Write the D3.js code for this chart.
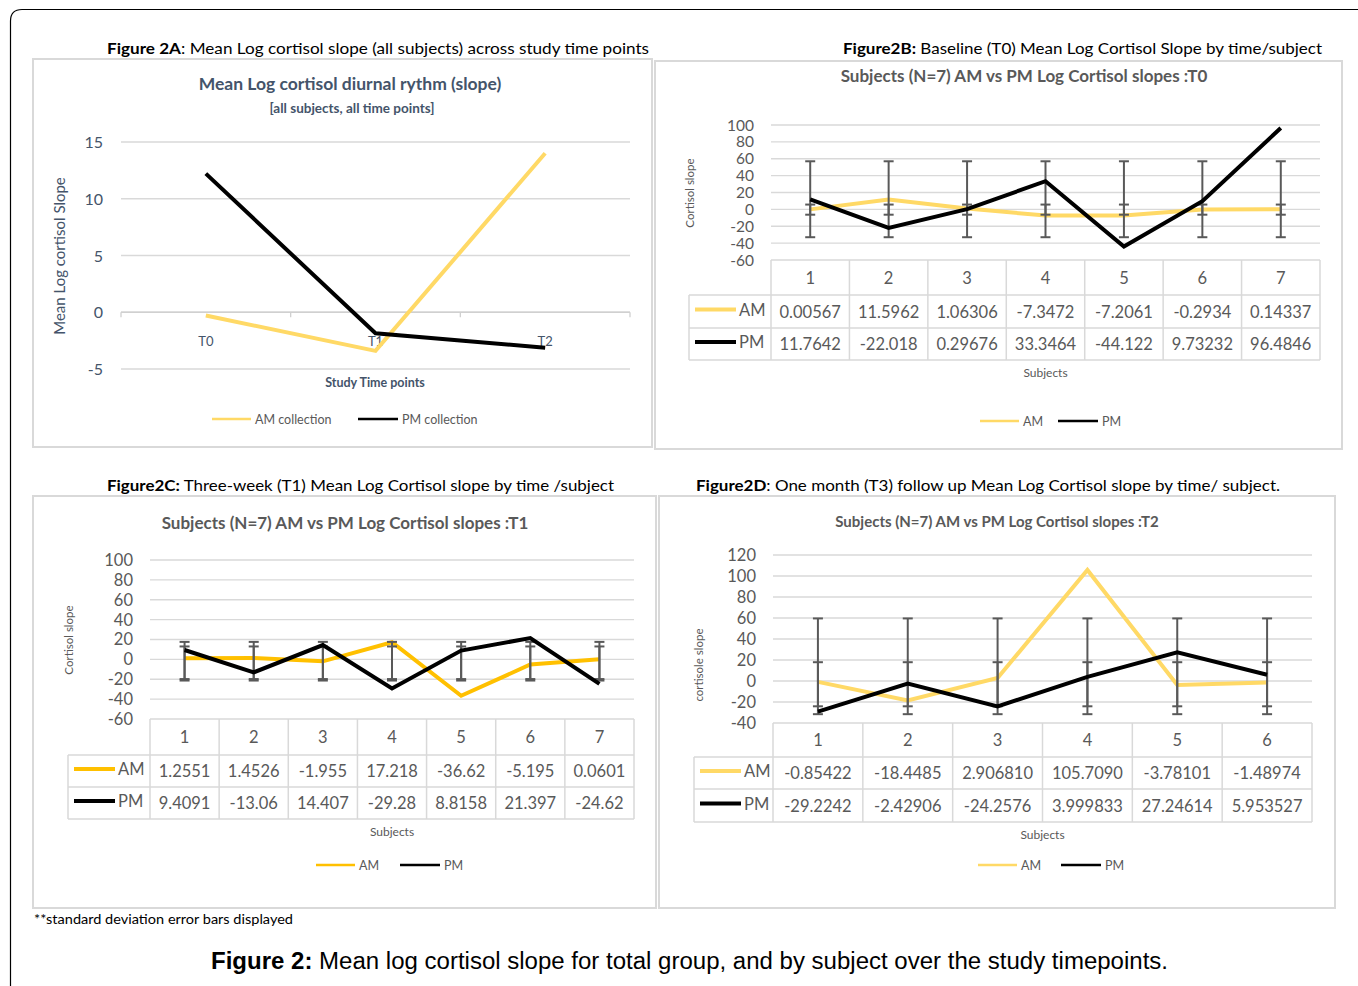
<!DOCTYPE html>
<html>
<head>
<meta charset="utf-8">
<script src="https://cdn.jsdelivr.net/npm/d3@7"></script>
<style>
body{margin:0;background:#fff;}
svg{display:block;font-family:Lato,"Open Sans",sans-serif;}
</style>
</head>
<body>
<svg id="c" width="1358" height="986"></svg>
<script>
// ---------------- DATA ----------------
const timePoints = ["T0", "T1", "T2"];
const meanAM = [-0.29, -3.40, 14.01];
const meanPM = [12.21, -1.85, -3.12];

const subjects7 = ["1", "2", "3", "4", "5", "6", "7"];
const subjects6 = ["1", "2", "3", "4", "5", "6"];

const t0AMLabels = ["0.00567", "11.5962", "1.06306", "-7.3472", "-7.2061", "-0.2934", "0.14337"];
const t0PMLabels = ["11.7642", "-22.018", "0.29676", "33.3464", "-44.122", "9.73232", "96.4846"];
const t0AM = [0.00567, 11.5962, 1.06306, -7.3472, -7.2061, -0.2934, 0.14337];
const t0PM = [11.7642, -22.018, 0.29676, 33.3464, -44.122, 9.73232, 96.4846];
const t0ErrAM = [-6.3, 5.7];
const t0ErrPM = [-33, 57];

const t1AMLabels = ["1.2551", "1.4526", "-1.955", "17.218", "-36.62", "-5.195", "0.0601"];
const t1PMLabels = ["9.4091", "-13.06", "14.407", "-29.28", "8.8158", "21.397", "-24.62"];
const t1AM = [1.2551, 1.4526, -1.955, 17.218, -36.62, -5.195, 0.0601];
const t1PM = [9.4091, -13.06, 14.407, -29.28, 8.8158, 21.397, -24.62];
const t1ErrAM = [-19.8, 13.0];
const t1ErrPM = [-21.3, 17.6];

const t2AMLabels = ["-0.85422", "-18.4485", "2.906810", "105.7090", "-3.78101", "-1.48974"];
const t2PMLabels = ["-29.2242", "-2.42906", "-24.2576", "3.999833", "27.24614", "5.953527"];
const t2AM = [-0.85422, -18.4485, 2.906810, 105.7090, -3.78101, -1.48974];
const t2PM = [-29.2242, -2.42906, -24.2576, 3.999833, 27.24614, 5.953527];
const t2ErrAM = [-31.6, 59.6];
const t2ErrPM = [-24.1, 17.9];

const ticksA = [-5, 0, 5, 10, 15];
const ticksT0 = [-60, -40, -20, 0, 20, 40, 60, 80, 100];
const ticksT1 = [-60, -40, -20, 0, 20, 40, 60, 80, 100];
const ticksT2 = [-40, -20, 0, 20, 40, 60, 80, 100, 120];

// ---------------- DRAWING ----------------
const svg = d3.select("#c");
const GRID = "#d9d9d9", TXT = "#595959", BLUE = "#44546a";
const GOLD_L = "#ffd966", GOLD = "#ffc000";

// outer frame
svg.append("path")
  .attr("d", "M10.5,986 L10.5,21 Q10.5,9.5 22,9.5 L1358,9.5")
  .attr("fill", "none").attr("stroke", "#000").attr("stroke-width", 1.2);

function heading(x, y, bold, rest, len) {
  const t = svg.append("text").attr("x", x).attr("y", y).attr("font-size", 16).attr("fill", "#000")
    .attr("textLength", len).attr("lengthAdjust", "spacingAndGlyphs");
  t.append("tspan").attr("font-weight", 700).text(bold);
  t.append("tspan").text(rest);
}
heading(107, 54, "Figure 2A", ": Mean Log cortisol slope (all subjects) across study time points", 542);
heading(843, 54, "Figure2B:", " Baseline (T0) Mean Log Cortisol Slope by time/subject", 479);
heading(107, 491, "Figure2C:", " Three-week (T1) Mean Log Cortisol slope by time /subject", 507);
heading(696, 491, "Figure2D", ": One month (T3) follow up Mean Log Cortisol slope by time/ subject.", 584);

function box(x0, y0, x1, y1) {
  svg.append("rect").attr("x", x0).attr("y", y0).attr("width", x1 - x0).attr("height", y1 - y0)
    .attr("fill", "#fff").attr("stroke", GRID).attr("stroke-width", 2);
}

// ---------- Chart A ----------
box(33, 59, 652, 447);
(function () {
  const g = svg.append("g");
  const x = d3.scaleBand().domain(timePoints).range([121, 630]);
  const y = d3.scaleLinear().domain([-5, 15]).range([369, 142]);
  g.append("text").attr("x", 350).attr("y", 90).attr("text-anchor", "middle").attr("font-size", 17.5)
    .attr("font-weight", 700).attr("fill", BLUE).text("Mean Log cortisol diurnal rythm (slope)");
  g.append("text").attr("x", 352).attr("y", 113).attr("text-anchor", "middle").attr("font-size", 13.5)
    .attr("font-weight", 700).attr("fill", BLUE).text("[all subjects, all time points]");
  ticksA.forEach(v => {
    g.append("line").attr("x1", 121).attr("x2", 630).attr("y1", y(v)).attr("y2", y(v))
      .attr("stroke", GRID).attr("stroke-width", 1.3);
    g.append("text").attr("x", 103).attr("y", y(v) + 6).attr("text-anchor", "end")
      .attr("font-size", 16).attr("fill", BLUE).text(v);
  });
  // axis at 0 with tick marks
  g.append("line").attr("x1", 121).attr("x2", 630).attr("y1", y(0)).attr("y2", y(0)).attr("stroke", "#d0d0d0").attr("stroke-width", 1.5);
  const bounds = [121].concat(timePoints.map(d => x(d) + x.bandwidth()));
  bounds.forEach(b => g.append("line").attr("x1", b).attr("x2", b).attr("y1", y(0)).attr("y2", y(0) + 5).attr("stroke", "#d0d0d0").attr("stroke-width", 1.3));
  timePoints.forEach(t => g.append("text").attr("x", x(t) + x.bandwidth() / 2).attr("y", 346)
    .attr("text-anchor", "middle").attr("font-size", 13).attr("fill", BLUE).text(t));
  g.append("text").attr("transform", "translate(65,256) rotate(-90)").attr("text-anchor", "middle")
    .attr("font-size", 15).attr("fill", BLUE).text("Mean Log cortisol Slope");
  g.append("text").attr("x", 375).attr("y", 387).attr("text-anchor", "middle").attr("font-size", 12.5)
    .attr("font-weight", 700).attr("fill", BLUE).text("Study Time points");
  const line = d3.line().x((d, i) => x(timePoints[i]) + x.bandwidth() / 2).y(d => y(d));
  g.append("path").attr("d", line(meanAM)).attr("fill", "none").attr("stroke", GOLD_L).attr("stroke-width", 4);
  g.append("path").attr("d", line(meanPM)).attr("fill", "none").attr("stroke", "#000").attr("stroke-width", 4);
  // legend
  g.append("line").attr("x1", 212).attr("x2", 251).attr("y1", 419).attr("y2", 419).attr("stroke", GOLD_L).attr("stroke-width", 2.5);
  g.append("text").attr("x", 255).attr("y", 424).attr("font-size", 12.5).attr("fill", TXT).text("AM collection");
  g.append("line").attr("x1", 358).attr("x2", 398).attr("y1", 419).attr("y2", 419).attr("stroke", "#000").attr("stroke-width", 2.5);
  g.append("text").attr("x", 402).attr("y", 424).attr("font-size", 12.5).attr("fill", TXT).text("PM collection");
})();

// ---------- subject charts ----------
function subjectChart(o) {
  box(o.box[0], o.box[1], o.box[2], o.box[3]);
  const g = svg.append("g");
  const x = d3.scaleBand().domain(o.cats).range([o.colL, o.colR]);
  const y = d3.scaleLinear().domain([o.ticks[0], o.ticks[o.ticks.length - 1]]).range(o.yRange);
  const cx = c => x(c) + x.bandwidth() / 2;
  g.append("text").attr("x", o.titleX).attr("y", o.titleY).attr("text-anchor", "middle")
    .attr("font-size", o.titleSize).attr("font-weight", 700).attr("fill", TXT).text(o.title);
  o.ticks.forEach(v => {
    if (v !== o.ticks[0]) g.append("line").attr("x1", o.colL).attr("x2", o.colR).attr("y1", y(v)).attr("y2", y(v))
      .attr("stroke", GRID).attr("stroke-width", 1.3);
    g.append("text").attr("x", o.colL - 17).attr("y", y(v) + o.tickSize * 0.36).attr("text-anchor", "end")
      .attr("font-size", o.tickSize).attr("fill", TXT).text(v);
  });
  g.append("text").attr("transform", `translate(${o.yTitleX},${o.yTitleY}) rotate(-90)`).attr("text-anchor", "middle")
    .attr("font-size", 11.5).attr("fill", TXT).text(o.yTitle);
  // table
  const t0 = y(o.ticks[0]), r1 = o.rows[0], r2 = o.rows[1], r3 = o.rows[2];
  const tb = g.append("g").attr("stroke", GRID).attr("stroke-width", 1.5);
  tb.append("line").attr("x1", o.colL).attr("x2", o.colR).attr("y1", t0).attr("y2", t0);
  [r1, r2, r3].forEach(r => tb.append("line").attr("x1", o.tabL).attr("x2", o.colR).attr("y1", r).attr("y2", r));
  const vb = o.cats.map(c => x(c)).concat([o.colR]);
  vb.forEach(b => tb.append("line").attr("x1", b).attr("x2", b).attr("y1", t0).attr("y2", r3));
  tb.append("line").attr("x1", o.tabL).attr("x2", o.tabL).attr("y1", r1).attr("y2", r3);
  o.cats.forEach((c, i) => {
    g.append("text").attr("x", cx(c)).attr("y", (t0 + r1) / 2 + 6).attr("text-anchor", "middle")
      .attr("font-size", 16.5).attr("fill", TXT).text(c);
    g.append("text").attr("x", cx(c)).attr("y", (r1 + r2) / 2 + 6).attr("text-anchor", "middle")
      .attr("font-size", 16.5).attr("fill", TXT).text(o.amLabels[i]);
    g.append("text").attr("x", cx(c)).attr("y", (r2 + r3) / 2 + 6).attr("text-anchor", "middle")
      .attr("font-size", 16.5).attr("fill", TXT).text(o.pmLabels[i]);
  });
  [[r1, r2, o.amColor, "AM"], [r2, r3, "#000", "PM"]].forEach(([a, b, col, name]) => {
    const my = (a + b) / 2 - 2;
    g.append("line").attr("x1", o.tabL + 6).attr("x2", o.tabL + 47).attr("y1", my).attr("y2", my)
      .attr("stroke", col).attr("stroke-width", 4);
    g.append("text").attr("x", o.tabL + 50).attr("y", my + 6).attr("font-size", 16.5).attr("fill", TXT).text(name);
  });
  g.append("text").attr("x", (o.colL + o.colR) / 2).attr("y", r3 + 17).attr("text-anchor", "middle")
    .attr("font-size", 12).attr("fill", TXT).text("Subjects");
  // lines and error bars
  const line = d3.line().x((d, i) => cx(o.cats[i])).y(d => y(d));
  g.append("path").attr("d", line(o.am)).attr("fill", "none").attr("stroke", o.amColor).attr("stroke-width", 4);
  const eb = g.append("g").attr("stroke", "#595959").attr("stroke-width", 2);
  [o.errAM, o.errPM].forEach(e => {
    o.cats.forEach(c => {
      const X = cx(c);
      eb.append("line").attr("x1", X).attr("x2", X).attr("y1", y(e[0])).attr("y2", y(e[1]));
      eb.append("line").attr("x1", X - 5).attr("x2", X + 5).attr("y1", y(e[0])).attr("y2", y(e[0]));
      eb.append("line").attr("x1", X - 5).attr("x2", X + 5).attr("y1", y(e[1])).attr("y2", y(e[1]));
    });
  });
  g.append("path").attr("d", line(o.pm)).attr("fill", "none").attr("stroke", "#000").attr("stroke-width", 4);
  // legend
  const L = o.legend;
  g.append("line").attr("x1", L[0]).attr("x2", L[0] + 39).attr("y1", L[2]).attr("y2", L[2]).attr("stroke", o.amColor).attr("stroke-width", 2.5);
  g.append("text").attr("x", L[0] + 43).attr("y", L[2] + 5).attr("font-size", 12.5).attr("fill", TXT).text("AM");
  g.append("line").attr("x1", L[1]).attr("x2", L[1] + 40).attr("y1", L[2]).attr("y2", L[2]).attr("stroke", "#000").attr("stroke-width", 2.5);
  g.append("text").attr("x", L[1] + 44).attr("y", L[2] + 5).attr("font-size", 12.5).attr("fill", TXT).text("PM");
}

subjectChart({
  box: [655, 61, 1342, 449], title: "Subjects (N=7) AM vs PM Log Cortisol slopes :T0", titleX: 1024, titleY: 82, titleSize: 17,
  cats: subjects7, colL: 771, colR: 1320, tabL: 689, ticks: ticksT0, yRange: [260, 125], tickSize: 15.5,
  rows: [295, 328, 360], am: t0AM, pm: t0PM, amLabels: t0AMLabels, pmLabels: t0PMLabels,
  errAM: t0ErrAM, errPM: t0ErrPM, amColor: GOLD_L, yTitle: "Cortisol slope", yTitleX: 694, yTitleY: 193,
  legend: [980, 1058, 421]
});
subjectChart({
  box: [33, 496, 656, 908], title: "Subjects (N=7) AM vs PM Log Cortisol slopes :T1", titleX: 345, titleY: 529, titleSize: 17,
  cats: subjects7, colL: 150, colR: 634, tabL: 68, ticks: ticksT1, yRange: [719, 560], tickSize: 16.5,
  rows: [755, 787, 819], am: t1AM, pm: t1PM, amLabels: t1AMLabels, pmLabels: t1PMLabels,
  errAM: t1ErrAM, errPM: t1ErrPM, amColor: GOLD, yTitle: "Cortisol slope", yTitleX: 73, yTitleY: 640,
  legend: [316, 400, 865]
});
subjectChart({
  box: [659, 496, 1335, 908], title: "Subjects (N=7) AM vs PM Log Cortisol slopes :T2", titleX: 997, titleY: 527, titleSize: 15,
  cats: subjects6, colL: 773, colR: 1312, tabL: 694, ticks: ticksT2, yRange: [723, 555], tickSize: 16.5,
  rows: [757, 789, 822], am: t2AM, pm: t2PM, amLabels: t2AMLabels, pmLabels: t2PMLabels,
  errAM: t2ErrAM, errPM: t2ErrPM, amColor: GOLD_L, yTitle: "cortisole slope", yTitleX: 703, yTitleY: 665,
  legend: [978, 1061, 865]
});

// footnote and caption
svg.append("text").attr("x", 34).attr("y", 924).attr("font-size", 12.5).attr("fill", "#000")
  .attr("textLength", 259).attr("lengthAdjust", "spacingAndGlyphs").text("**standard deviation error bars displayed");
const cap = svg.append("text").attr("x", 211).attr("y", 969).attr("font-size", 23)
  .attr("font-family", "'Liberation Sans', Arial, sans-serif").attr("fill", "#000")
  .attr("textLength", 957).attr("lengthAdjust", "spacingAndGlyphs");
cap.append("tspan").attr("font-weight", 700).text("Figure 2:");
cap.append("tspan").text(" Mean log cortisol slope for total group, and by subject over the study timepoints.");
</script>
</body>
</html>
